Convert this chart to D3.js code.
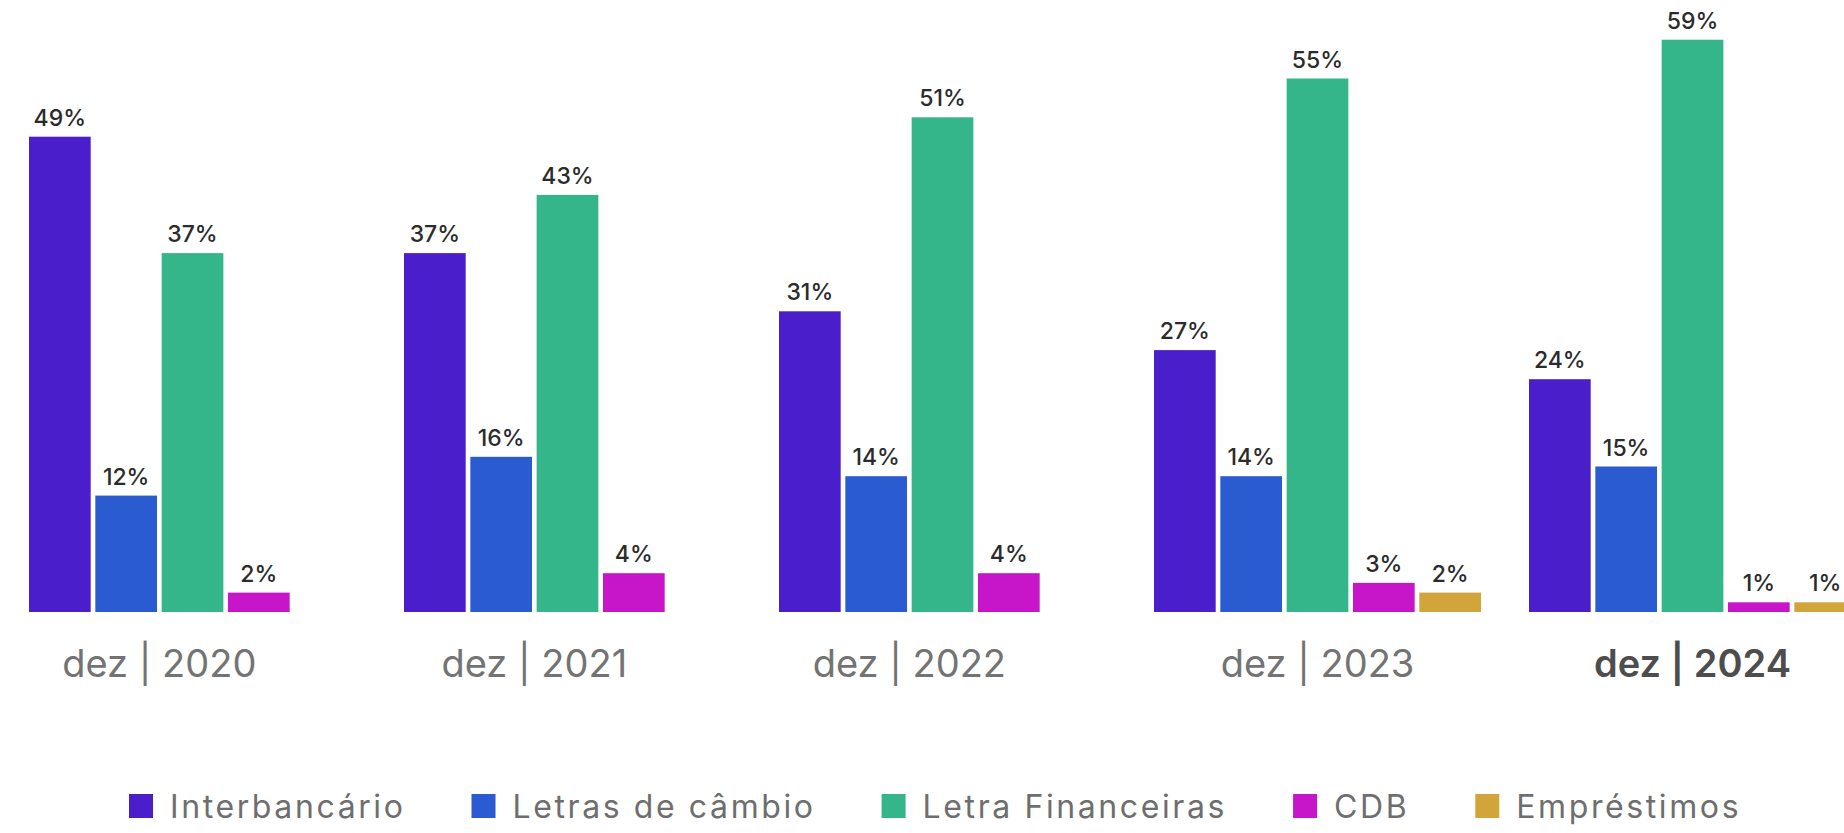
<!DOCTYPE html>
<html>
<head>
<meta charset="utf-8">
<script src="https://cdn.jsdelivr.net/npm/d3@7"></script>
<style>
  html, body { margin: 0; padding: 0; background: #ffffff; }
  svg { display: block; }
</style>
</head>
<body>
<svg id="chart" width="1844" height="833"></svg>
<script>
// ---- data ----
const years = ["dez | 2020", "dez | 2021", "dez | 2022", "dez | 2023", "dez | 2024"];
const series = ["Interbancário", "Letras de câmbio", "Letra Financeiras", "CDB", "Empréstimos"];
const colors = ["#4a1ecb", "#2a5bd0", "#35b58a", "#c716c9", "#d1a53a"];
const interbancario = [49, 37, 31, 27, 24];
const letrasCambio   = [12, 16, 14, 14, 15];
const letraFinanc    = [37, 43, 51, 55, 59];
const cdb            = [2, 4, 4, 3, 1];
const emprestimos    = [null, null, null, 2, 1];
const highlightYear = "dez | 2024";

const seriesValues = [interbancario, letrasCambio, letraFinanc, cdb, emprestimos];

const svg = d3.select("#chart");
const baseY = 612;

const x0 = d3.scaleBand().domain(years).range([29, 29 + 375 * years.length]).padding(0);
const x1 = d3.scaleBand().domain(d3.range(series.length)).range([0, 327]).paddingInner(0.07).paddingOuter(0);
const y = d3.scaleLinear().domain([0, 60]).range([baseY, baseY - 60 * 9.7]);

const fontFamily = "Inter, 'Noto Sans', sans-serif";

years.forEach((yr, yi) => {
  const present = series.map((s, si) => ({ s, si, v: seriesValues[si][yi] })).filter(d => d.v != null);
  const g = svg.append("g").attr("transform", `translate(${x0(yr)},0)`);
  present.forEach((d, i) => { d.i = i; });

  g.selectAll("rect").data(present).enter().append("rect")
    .attr("x", d => x1(d.i))
    .attr("width", x1.bandwidth())
    .attr("y", d => y(d.v))
    .attr("height", d => y(0) - y(d.v))
    .attr("fill", d => colors[d.si]);

  g.selectAll("text.val").data(present).enter().append("text")
    .attr("class", "val")
    .attr("x", d => x1(d.i) + x1.bandwidth() / 2)
    .attr("y", d => y(d.v) - 11)
    .attr("text-anchor", "middle")
    .attr("font-family", fontFamily)
    .attr("font-size", 23)
    .attr("font-weight", 500)
    .attr("fill", "#2b2b2b")
    .text(d => d.v + "%");

  const groupW = x1(present.length - 1) + x1.bandwidth();
  g.append("text")
    .attr("x", groupW / 2)
    .attr("y", 677)
    .attr("text-anchor", "middle")
    .attr("font-family", fontFamily)
    .attr("font-size", 38)
    .attr("font-weight", yr === highlightYear ? 600 : 400)
    .attr("fill", yr === highlightYear ? "#4d4d4d" : "#737373")
    .text(yr);
});

// ---- legend ----
const legend = svg.append("g");
let lx = 129;
series.forEach((s, i) => {
  const item = legend.append("g").attr("transform", `translate(${lx},0)`);
  item.append("rect").attr("x", 0).attr("y", 794).attr("width", 24).attr("height", 24).attr("fill", colors[i]);
  const t = item.append("text")
    .attr("x", 41)
    .attr("y", 818)
    .attr("font-family", fontFamily)
    .attr("font-size", 32)
    .attr("fill", "#6e6e6e")
    .attr("letter-spacing", 2.6)
    .text(s);
  const tw = t.node().getComputedTextLength();
  lx += 41 + tw + 66;
});
</script>
</body>
</html>
